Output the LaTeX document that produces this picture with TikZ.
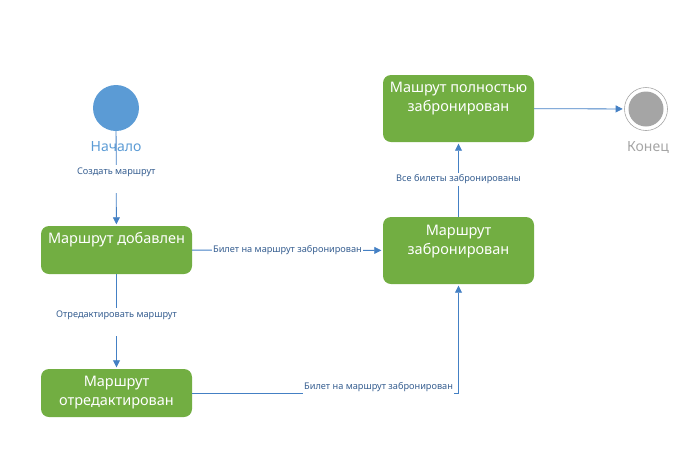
\documentclass[tikz,border=0pt]{standalone}
\usepackage{fontspec}
\setmainfont{Noto Sans}
\usetikzlibrary{arrows.meta}
\definecolor{stgreen}{RGB}{114,174,66}
\definecolor{startblue}{RGB}{91,155,213}
\definecolor{edgeblue}{RGB}{68,128,196}
\definecolor{lbltext}{RGB}{55,95,145}
\definecolor{endgray}{RGB}{165,165,165}
\tikzset{
  statebox/.style={draw=none, fill=stgreen, rounded corners=8pt, minimum width=151pt, inner sep=0pt},
  statetext/.style={text=white, font=\fontsize{14.5}{19}\selectfont, align=center, inner sep=0pt},
  edge/.style={draw=edgeblue, line width=0.8pt, -{Triangle[width=7pt,length=7pt]}, shorten >=1.5pt},
  lbl/.style={fill=white, text=lbltext, font=\fontsize{9.2}{11}\selectfont, inner xsep=1pt, inner ysep=2pt},
  lblv/.style={lbl, inner ysep=1pt, text height=9pt, text depth=17pt},
}
\begin{document}
\begin{tikzpicture}[x=1pt,y=-1pt]
\useasboundingbox (0,0) rectangle (689,451);
% start
\node[circle, fill=startblue, minimum size=46pt, inner sep=0pt] (start) at (116,108) {};
\node[text=startblue, font=\fontsize{14}{16}\selectfont, inner sep=0pt] (startlbl) at (116,147) {Начало};
% end
\node[circle, draw=endgray, line width=0.6pt, minimum size=43pt, inner sep=0pt] (end) at (646,109) {};
\node[circle, fill=endgray, minimum size=35pt, inner sep=0pt] (endin) at (646,109) {};
\node[text=endgray, font=\fontsize{14}{16}\selectfont, inner sep=0pt] (endlbl) at (648,147) {Конец};
% states
\node[statebox, minimum height=48pt] (n1) at (116.5,250) {};
\node[statetext] (t1) at (116.5,240) {Маршрут добавлен};
\node[statebox, minimum height=67pt] (n2) at (458.5,250.5) {};
\node[statetext] (t2) at (458.5,241.5) {Маршрут\\забронирован};
\node[statebox, minimum height=67pt] (n3) at (458.5,108.5) {};
\node[statetext] (t3) at (458.5,98.5) {Машрут полностью\\забронирован};
\node[statebox, minimum height=48pt] (n4) at (116.5,393) {};
\node[statetext] (t4) at (116.5,392.5) {Маршрут\\отредактирован};
% edges
\draw[edge] (start) -- node[lblv, pos=0.5] {Создать маршрут} (n1);
\draw[edge] (n1) -- node[lbl, pos=0.5] {Билет на маршрут забронирован} (n2);
\draw[edge] (n1) -- node[lblv, pos=0.5] {Отредактировать маршрут} (n4);
\draw[edge] (n2) -- node[lbl, pos=0.5] {Все билеты забронированы} (n3);
\draw[edge] (n3) -- (end);
\draw[edge] (n4.east) -| node[lbl, pos=0.35, yshift=6pt] {Билет на маршрут забронирован} (n2.south);
\end{tikzpicture}
\end{document}
